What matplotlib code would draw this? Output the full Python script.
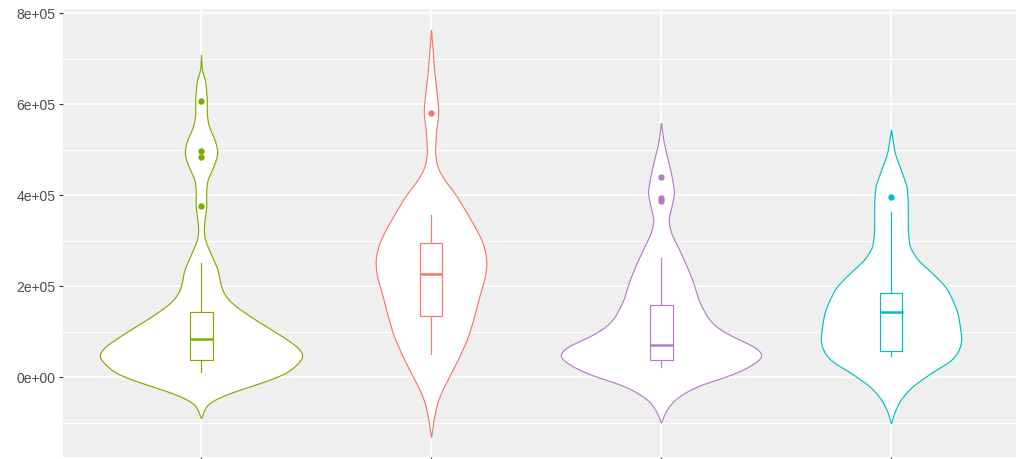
import numpy as np
import matplotlib.pyplot as plt
from matplotlib.patches import Rectangle

plt.rcParams['font.family'] = ['Liberation Sans', 'DejaVu Sans']

groups = ["g1", "g2", "g3", "g4"]
colors = ["#7CAE00", "#F8766D", "#B47CC7", "#00BFC4"]

# violin outlines: value levels (thousands) and half widths (x units)
green_lvl = [-90, -78, -57, -35, -13, 9, 46, 66, 97, 132, 163, 185, 207, 235, 279,
             301, 319, 345, 376, 404, 433, 462, 492, 521, 550, 580, 607, 631, 659, 668, 708]
green_hw = [0, 0.009, 0.026, 0.122, 0.261, 0.378, 0.452, 0.422, 0.330, 0.217, 0.130, 0.096,
            0.083, 0.074, 0.035, 0.017, 0.011, 0.015, 0.024, 0.022, 0.026, 0.054, 0.074,
            0.061, 0.033, 0.024, 0.026, 0.022, 0.017, 0.004, 0]

red_lvl = [-132, -88, -57, -29, 0, 44, 88, 132, 176, 220, 257, 295, 330, 367, 404,
           433, 462, 499, 514, 543, 580, 609, 637, 675, 719, 763]
red_hw = [0, 0.013, 0.026, 0.048, 0.078, 0.122, 0.161, 0.187, 0.209, 0.235, 0.243, 0.226,
          0.191, 0.148, 0.104, 0.057, 0.026, 0.015, 0.020, 0.022, 0.033, 0.028, 0.022,
          0.013, 0.007, 0]

purple_lvl = [-99, -73, -51, -29, -13, 0, 22, 46, 66, 88, 110, 132, 169, 207, 242,
              279, 317, 345, 374, 404, 440, 477, 514, 558]
purple_hw = [0, 0.022, 0.054, 0.120, 0.191, 0.283, 0.383, 0.448, 0.413, 0.313, 0.239,
             0.200, 0.163, 0.141, 0.113, 0.080, 0.043, 0.031, 0.045, 0.058, 0.047, 0.030,
             0.012, 0]

teal_lvl = [-101, -79, -51, -22, 9, 37, 59, 81, 110, 141, 169, 198, 229, 257, 286,
            323, 361, 382, 418, 455, 492, 543]
teal_hw = [0, 0.013, 0.039, 0.087, 0.174, 0.265, 0.296, 0.307, 0.300, 0.290, 0.268,
           0.239, 0.178, 0.116, 0.080, 0.073, 0.073, 0.073, 0.069, 0.043, 0.016, 0]

violins = [(green_lvl, green_hw), (red_lvl, red_hw),
           (purple_lvl, purple_hw), (teal_lvl, teal_hw)]

# box stats (thousands): lower whisker, q1, median, q3, upper whisker
box_stats = [
    [11, 37, 83.5, 143, 250.6],
    [50.6, 134.7, 227, 295, 356],
    [21, 37.4, 70, 158, 261],
    [46.8, 57.8, 143, 184, 363],
]
outliers = [
    [606, 497, 483, 376.5],
    [581],
    [439, 394, 386],
    [396],
]


def outline(lvl, hw):
    lvl = np.asarray(lvl, dtype=float) * 1000
    grid = np.linspace(lvl[0], lvl[-1], 500)
    w = np.interp(grid, lvl, hw)
    # smooth the outline so it isn't faceted
    k = np.exp(-0.5 * (np.arange(-18, 19) / 5.5) ** 2)
    k /= k.sum()
    w = np.convolve(np.pad(w, 18, mode='edge'), k, mode='valid')
    w[0] = w[-1] = 0
    return grid, w


fig = plt.figure(figsize=(10.18, 4.59), dpi=100)
ax = fig.add_axes([63 / 1018, 2 / 459, 953 / 1018, 448 / 459])
ax.set_facecolor('#EFEFEF')

for i, (lvl, hw) in enumerate(violins):
    x = i + 1
    c = colors[i]
    yy, ww = outline(lvl, hw)
    ax.fill_betweenx(yy, x - ww, x + ww, facecolor='white', edgecolor=c,
                     lw=0.85, zorder=2)

    lo, q1, med, q3, hi = [v * 1000 for v in box_stats[i]]
    ax.add_patch(Rectangle((x - 0.05, q1), 0.1, q3 - q1, facecolor='white',
                           edgecolor=c, lw=0.85, zorder=3))
    ax.plot([x - 0.05, x + 0.05], [med, med], color=c, lw=1.8, zorder=4,
            solid_capstyle='butt')
    ax.plot([x, x], [q3, hi], color=c, lw=0.85, zorder=3)
    ax.plot([x, x], [lo, q1], color=c, lw=0.85, zorder=3)
    ax.plot([x] * len(outliers[i]), np.array(outliers[i]) * 1000, 'o',
            color=c, markersize=4.6, markeredgewidth=0, zorder=4)

ax.set_xlim(0.4, 0.4 + 953 / 230)
ax.set_ylim(-175800, 808800)

ax.set_xticks([1, 2, 3, 4])
ax.set_xticklabels([])
ax.set_xticks([], minor=True)
major = np.arange(0, 800001, 200000)
ax.set_yticks(major)
ax.set_yticks(np.arange(-100000, 700001, 200000), minor=True)
ax.set_yticklabels([f"{v:.0e}" for v in major])

ax.grid(which='major', color='white', lw=1.3)
ax.grid(which='minor', axis='y', color='white', lw=0.8)
ax.set_axisbelow(True)

ax.tick_params(axis='both', which='major', length=3.2, width=0.8, color='#333333',
               labelcolor='#4D4D4D', labelsize=10, pad=2.2)
ax.tick_params(axis='y', which='minor', length=0)
for s in ax.spines.values():
    s.set_visible(False)

fig.savefig('out.png', dpi=100, facecolor='white')
